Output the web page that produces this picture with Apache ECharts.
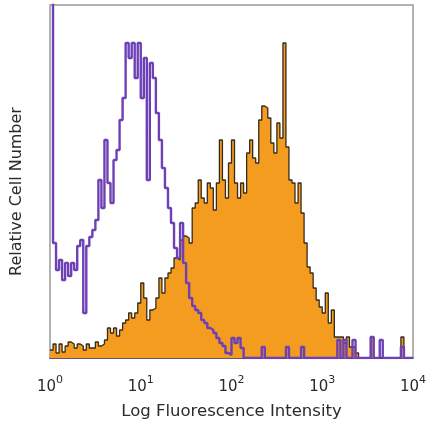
<!DOCTYPE html>
<html><head><meta charset="utf-8">
<script src="https://cdn.jsdelivr.net/npm/echarts@6/dist/echarts.min.js"></script>
<style>html,body{margin:0;padding:0;background:#fff}#c{width:436px;height:421px}</style>
</head><body><div id="c"></div>
<script>
// Histogram channels: 120 bins spanning log10 intensity 0..4 (30 bins per decade)
const decadeTicks = [0, 1, 2, 3, 4];
const binsPerDecade = 30;
const yMax = 353;
// Isotype control (purple) counts per bin
const isotypeCounts = [
 400,115,88,98,78,95,82,95,88,112,
 118,45,112,121,128,138,178,150,218,175,
 155,198,208,238,260,315,300,315,280,315,
 260,300,178,295,280,245,218,190,170,150,
 135,110,100,135,95,75,60,52,48,45,
 38,35,30,28,25,20,15,12,5,3,
 20,15,20,10,0,0,0,0,0,0,
 11,0,0,0,0,0,0,0,11,0,
 0,0,0,11,0,0,0,0,0,0,
 0,0,0,0,0,18,0,18,0,0,
 18,0,0,0,0,0,21,0,0,18,
 0,0,0,0,0,0,11,0,0,0
];
// Stained sample (orange) counts per bin
const stainedCounts = [
 8,14,5,14,6,12,16,14,10,14,
 12,8,14,10,10,16,12,14,18,30,
 25,30,22,28,35,38,45,40,45,55,
 75,60,38,48,50,60,80,65,80,85,
 90,100,98,118,122,120,115,150,155,178,
 160,155,175,170,148,175,218,178,160,195,
 218,175,160,175,165,205,218,200,195,238,
 252,250,240,215,205,235,220,315,211,178,
 175,155,175,145,115,91,85,70,58,51,
 45,65,35,48,21,21,21,15,21,11,
 11,5,0,0,0,0,21,0,0,0,
 0,0,0,0,0,0,21,0,0,0
];
const xTitle = 'Log Fluorescence Intensity';
const yTitle = 'Relative Cell Number';

function toSeries(counts){
  const d = counts.map((v,i)=>[i/binsPerDecade, v]);
  d.push([counts.length/binsPerDecade, counts[counts.length-1]]);
  return d;
}

const chart = echarts.init(document.getElementById('c'), null, {renderer:'canvas'});
chart.setOption({
  animation:false,
  backgroundColor:'#fff',
  grid:{left:50, right:23, top:5, bottom:63, containLabel:false, outerBoundsMode:'none',
        show:true, borderColor:'#999', borderWidth:1.5, backgroundColor:'transparent'},
  xAxis:{
    type:'value', min:0, max:4, interval:1,
    axisLine:{show:true, onZero:false, lineStyle:{color:'#4a3560', width:1.5}},
    axisTick:{show:false}, splitLine:{show:false},
    axisLabel:{
      margin:17,
      formatter:v=>'{b|10}{s|'+v+'}',
      rich:{
        b:{fontFamily:'DejaVu Sans', fontSize:15, color:'#2a2a2a', padding:[5,0,0,0]},
        s:{fontFamily:'DejaVu Sans', fontSize:11, color:'#2a2a2a', verticalAlign:'top', padding:[0,0,8,0]}
      }
    },
    name:xTitle, nameLocation:'middle', nameGap:45,
    nameTextStyle:{fontFamily:'DejaVu Sans', fontSize:16.5, color:'#2a2a2a'}
  },
  yAxis:{
    type:'value', min:0, max:yMax,
    axisLine:{show:false}, axisTick:{show:false}, axisLabel:{show:false}, splitLine:{show:false},
    name:yTitle, nameLocation:'middle', nameGap:25,
    nameTextStyle:{fontFamily:'DejaVu Sans', fontSize:16, color:'#2a2a2a', padding:[0,20,0,0]}
  },
  series:[
    {type:'line', step:'end', symbol:'none', clip:true, data:toSeries(stainedCounts),
     lineStyle:{color:'rgba(20,15,10,0.85)', width:1.3},
     areaStyle:{color:'#f39c1f', opacity:1}, z:2},
    {type:'line', step:'end', symbol:'none', clip:true, data:toSeries(isotypeCounts),
     lineStyle:{color:'#6d40b6', width:2.4}, z:3}
  ]
});
</script></body></html>
